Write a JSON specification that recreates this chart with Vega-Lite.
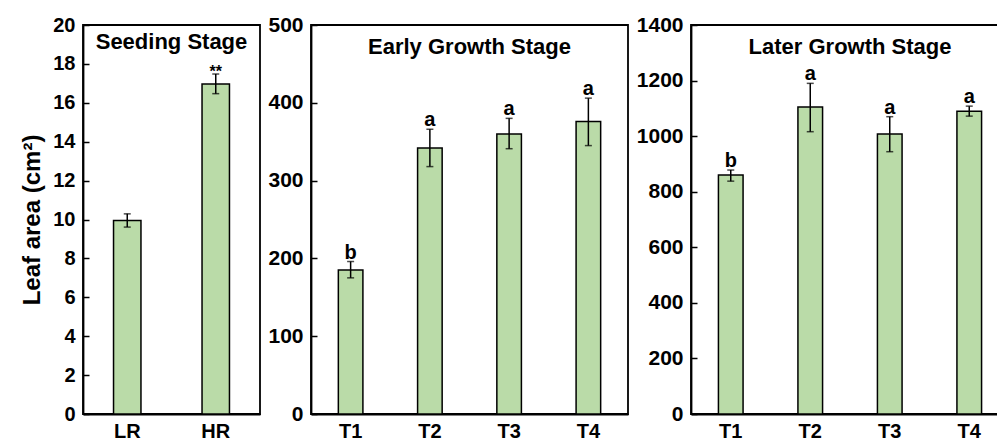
{
  "$schema": "https://vega.github.io/schema/vega-lite/v6.json",
  "padding": {"left": 19, "top": 13, "right": -13, "bottom": -4},
  "spacing": 6,
  "config": {
    "font": "Liberation Sans",
    "view": {"stroke": "black", "strokeWidth": 1.8},
    "axis": {
      "domainColor": "black", "domainWidth": 1.8, "grid": false,
      "labelColor": "black", "labelFont": "Liberation Sans", "labelFontWeight": "bold", "labelFontSize": 21,
      "titleColor": "black", "titleFont": "Liberation Sans", "titleFontWeight": "bold"
    },
    "axisY": {"tickSize": -6, "tickWidth": 1.5, "tickColor": "black", "labelPadding": 14, "labelOverlap": false, "format": "d"},
    "axisX": {"ticks": false, "labelPadding": 7, "labelAngle": 0, "labelFontSize": 20},
    "title": {"color": "black", "font": "Liberation Sans", "fontWeight": "bold", "fontSize": 22, "anchor": "middle", "frame": "group", "baseline": "alphabetic"}
  },
  "hconcat": [
    {
      "width": 177, "height": 389,
      "title": {"text": "Seeding Stage", "offset": -39},
      "data": {"values": [
        {"group": "LR", "mean": 9.95, "lo": 9.61, "hi": 10.29, "sig": ""},
        {"group": "HR", "mean": 16.97, "lo": 16.47, "hi": 17.48, "sig": "**"}
      ]},
      "encoding": {
        "x": {"field": "group", "type": "nominal", "sort": null, "title": null,
              "scale": {"paddingInner": 0.69, "paddingOuter": 0.345}}
      },
      "layer": [
        {"mark": {"type": "bar", "fill": "#badba8", "stroke": "black", "strokeWidth": 1.5},
         "encoding": {"y": {"field": "mean", "type": "quantitative",
           "scale": {"domain": [0, 20], "nice": false},
           "axis": {"values": [0, 2, 4, 6, 8, 10, 12, 14, 16, 18, 20], "labelFontSize": 20, "title": "Leaf area (cm²)", "titleFontSize": 24, "titlePadding": 8}}}},
        {"mark": {"type": "rule", "color": "black", "strokeWidth": 1.5},
         "encoding": {"y": {"field": "lo", "type": "quantitative", "scale": {"domain": [0, 20], "nice": false},
           "axis": {"values": [0, 2, 4, 6, 8, 10, 12, 14, 16, 18, 20], "labelFontSize": 20, "title": "Leaf area (cm²)", "titleFontSize": 24, "titlePadding": 8}}, "y2": {"field": "hi"}}},
        {"mark": {"type": "tick", "color": "black", "size": 7, "thickness": 1.5},
         "encoding": {"y": {"field": "lo", "type": "quantitative", "scale": {"domain": [0, 20], "nice": false},
           "axis": {"values": [0, 2, 4, 6, 8, 10, 12, 14, 16, 18, 20], "labelFontSize": 20, "title": "Leaf area (cm²)", "titleFontSize": 24, "titlePadding": 8}}}},
        {"mark": {"type": "tick", "color": "black", "size": 7, "thickness": 1.5},
         "encoding": {"y": {"field": "hi", "type": "quantitative", "scale": {"domain": [0, 20], "nice": false},
           "axis": {"values": [0, 2, 4, 6, 8, 10, 12, 14, 16, 18, 20], "labelFontSize": 20, "title": "Leaf area (cm²)", "titleFontSize": 24, "titlePadding": 8}}}},
        {"mark": {"type": "text", "baseline": "alphabetic", "dy": 3, "fontSize": 16, "fontWeight": "bold", "color": "black"},
         "encoding": {"y": {"field": "hi", "type": "quantitative", "scale": {"domain": [0, 20], "nice": false},
           "axis": {"values": [0, 2, 4, 6, 8, 10, 12, 14, 16, 18, 20], "labelFontSize": 20, "title": "Leaf area (cm²)", "titleFontSize": 24, "titlePadding": 8}}, "text": {"field": "sig"}}}
      ]
    },
    {
      "width": 317, "height": 389,
      "title": {"text": "Early Growth Stage", "offset": -45},
      "data": {"values": [
        {"group": "T1", "mean": 185, "lo": 175, "hi": 196, "sig": "b"},
        {"group": "T2", "mean": 342, "lo": 318, "hi": 366, "sig": "a"},
        {"group": "T3", "mean": 360, "lo": 341, "hi": 380, "sig": "a"},
        {"group": "T4", "mean": 376, "lo": 345, "hi": 406, "sig": "a"}
      ]},
      "encoding": {
        "x": {"field": "group", "type": "nominal", "sort": null, "title": null,
              "scale": {"paddingInner": 0.69, "paddingOuter": 0.345}}
      },
      "layer": [
        {"mark": {"type": "bar", "fill": "#badba8", "stroke": "black", "strokeWidth": 1.5},
         "encoding": {"y": {"field": "mean", "type": "quantitative", "scale": {"domain": [0, 500], "nice": false},
           "axis": {"values": [0, 100, 200, 300, 400, 500], "title": null}}}},
        {"mark": {"type": "rule", "color": "black", "strokeWidth": 1.5},
         "encoding": {"y": {"field": "lo", "type": "quantitative", "scale": {"domain": [0, 500], "nice": false},
           "axis": {"values": [0, 100, 200, 300, 400, 500], "title": null}}, "y2": {"field": "hi"}}},
        {"mark": {"type": "tick", "color": "black", "size": 7, "thickness": 1.5},
         "encoding": {"y": {"field": "lo", "type": "quantitative", "scale": {"domain": [0, 500], "nice": false},
           "axis": {"values": [0, 100, 200, 300, 400, 500], "title": null}}}},
        {"mark": {"type": "tick", "color": "black", "size": 7, "thickness": 1.5},
         "encoding": {"y": {"field": "hi", "type": "quantitative", "scale": {"domain": [0, 500], "nice": false},
           "axis": {"values": [0, 100, 200, 300, 400, 500], "title": null}}}},
        {"mark": {"type": "text", "baseline": "alphabetic", "dy": -3, "fontSize": 20, "fontWeight": "bold", "color": "black"},
         "encoding": {"y": {"field": "hi", "type": "quantitative", "scale": {"domain": [0, 500], "nice": false},
           "axis": {"values": [0, 100, 200, 300, 400, 500], "title": null}}, "text": {"field": "sig"}}}
      ]
    },
    {
      "width": 318, "height": 389,
      "title": {"text": "Later Growth Stage", "offset": -45},
      "data": {"values": [
        {"group": "T1", "mean": 860, "lo": 838, "hi": 878, "sig": "b"},
        {"group": "T2", "mean": 1105, "lo": 1016, "hi": 1190, "sig": "a"},
        {"group": "T3", "mean": 1008, "lo": 944, "hi": 1070, "sig": "a"},
        {"group": "T4", "mean": 1090, "lo": 1072, "hi": 1108, "sig": "a"}
      ]},
      "encoding": {
        "x": {"field": "group", "type": "nominal", "sort": null, "title": null,
              "scale": {"paddingInner": 0.69, "paddingOuter": 0.345}}
      },
      "layer": [
        {"mark": {"type": "bar", "fill": "#badba8", "stroke": "black", "strokeWidth": 1.5},
         "encoding": {"y": {"field": "mean", "type": "quantitative", "scale": {"domain": [0, 1400], "nice": false},
           "axis": {"values": [0, 200, 400, 600, 800, 1000, 1200, 1400], "title": null}}}},
        {"mark": {"type": "rule", "color": "black", "strokeWidth": 1.5},
         "encoding": {"y": {"field": "lo", "type": "quantitative", "scale": {"domain": [0, 1400], "nice": false},
           "axis": {"values": [0, 200, 400, 600, 800, 1000, 1200, 1400], "title": null}}, "y2": {"field": "hi"}}},
        {"mark": {"type": "tick", "color": "black", "size": 7, "thickness": 1.5},
         "encoding": {"y": {"field": "lo", "type": "quantitative", "scale": {"domain": [0, 1400], "nice": false},
           "axis": {"values": [0, 200, 400, 600, 800, 1000, 1200, 1400], "title": null}}}},
        {"mark": {"type": "tick", "color": "black", "size": 7, "thickness": 1.5},
         "encoding": {"y": {"field": "hi", "type": "quantitative", "scale": {"domain": [0, 1400], "nice": false},
           "axis": {"values": [0, 200, 400, 600, 800, 1000, 1200, 1400], "title": null}}}},
        {"mark": {"type": "text", "baseline": "alphabetic", "dy": -3, "fontSize": 20, "fontWeight": "bold", "color": "black"},
         "encoding": {"y": {"field": "hi", "type": "quantitative", "scale": {"domain": [0, 1400], "nice": false},
           "axis": {"values": [0, 200, 400, 600, 800, 1000, 1200, 1400], "title": null}}, "text": {"field": "sig"}}}
      ]
    }
  ]
}
